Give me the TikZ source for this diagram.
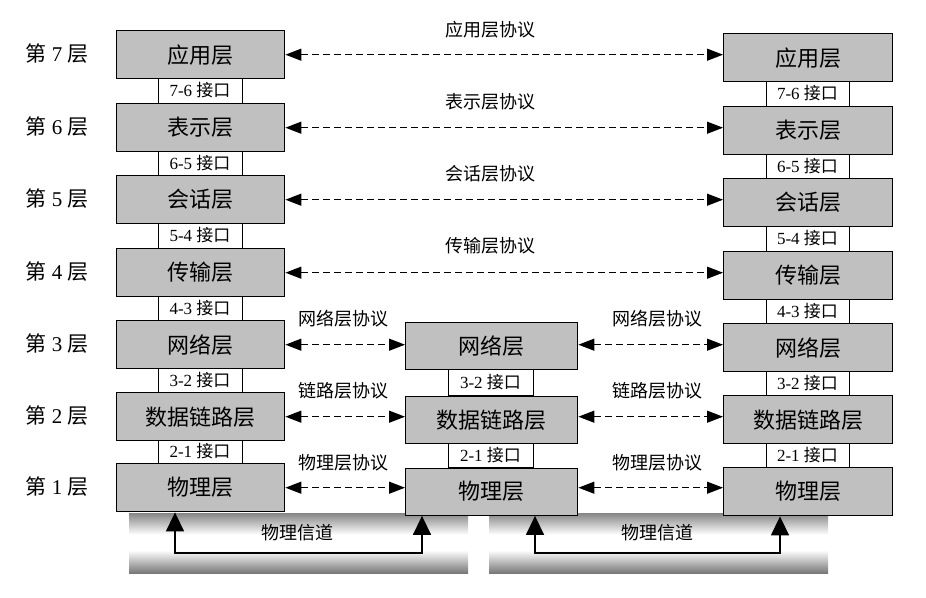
\documentclass[tikz,border=0pt]{standalone}
\usepackage{fontspec}
\setmainfont{Liberation Serif}
\newfontfamily\cjk{Noto Sans CJK SC}
\usetikzlibrary{arrows.meta}
\definecolor{boxgray}{HTML}{C0C0C0}
\definecolor{chantop}{gray}{0.52}
\definecolor{chanbot}{gray}{0.47}
\pgfdeclareverticalshading{chanshade}{100bp}{color(0bp)=(chanbot); color(25bp)=(chanbot); color(44bp)=(white); color(57bp)=(white); color(75bp)=(chantop); color(100bp)=(chantop)}
\tikzset{
  layer/.style={draw=black, line width=1.4pt, fill=boxgray, inner sep=0pt, minimum height=48pt, anchor=north west, font=\fontsize{22}{24}\cjk},
  iface/.style={draw=black, line width=1pt, fill=white, inner sep=0pt, font=\fontsize{17}{18}\selectfont},
  proto/.style={line width=1.2pt, dash pattern=on 7pt off 4pt, {Triangle[length=16pt,width=12pt]}-{Triangle[length=16pt,width=12pt]}},
  plabel/.style={font=\fontsize{18}{20}\cjk, inner sep=0pt},
  lvl/.style={font=\fontsize{21}{22}\selectfont, inner sep=0pt},
  chan/.style={line width=1.5pt, {Triangle[length=19pt,width=18pt]}-{Triangle[length=19pt,width=18pt]}},
}
\begin{document}
\begin{tikzpicture}[x=1pt,y=-1pt]
\useasboundingbox (0,0) rectangle (926,597);
% physical channels
\shade[shading=chanshade] (129,513) rectangle (468,573);
\shade[shading=chanshade] (489,513) rectangle (828,573);
% interfaces left
\node[iface, minimum width=84pt, minimum height=25pt] (li1) at (200,90.5) {7-6 {\cjk 接口}};
\node[iface, minimum width=84pt, minimum height=24pt] (li2) at (200,163) {6-5 {\cjk 接口}};
\node[iface, minimum width=84pt, minimum height=25pt] (li3) at (200,235.5) {5-4 {\cjk 接口}};
\node[iface, minimum width=84pt, minimum height=24pt] (li4) at (200,308) {4-3 {\cjk 接口}};
\node[iface, minimum width=84pt, minimum height=24pt] (li5) at (200,380) {3-2 {\cjk 接口}};
\node[iface, minimum width=84pt, minimum height=23pt] (li6) at (200,451.5) {2-1 {\cjk 接口}};
% interfaces right
\node[iface, minimum width=83pt, minimum height=25pt] (ri1) at (807.5,93.5) {7-6 {\cjk 接口}};
\node[iface, minimum width=83pt, minimum height=24pt] (ri2) at (807.5,166) {6-5 {\cjk 接口}};
\node[iface, minimum width=83pt, minimum height=25pt] (ri3) at (807.5,238.5) {5-4 {\cjk 接口}};
\node[iface, minimum width=83pt, minimum height=24pt] (ri4) at (807.5,311) {4-3 {\cjk 接口}};
\node[iface, minimum width=83pt, minimum height=24pt] (ri5) at (807.5,383) {3-2 {\cjk 接口}};
\node[iface, minimum width=83pt, minimum height=24pt] (ri6) at (807.5,455) {2-1 {\cjk 接口}};
% interfaces middle
\node[iface, minimum width=85pt, minimum height=27pt] (mi5) at (490.5,382) {3-2 {\cjk 接口}};
\node[iface, minimum width=85pt, minimum height=25pt] (mi6) at (490.5,455) {2-1 {\cjk 接口}};
% left layers
\node[layer, minimum width=168pt] (L7) at (116,30) {应用层};
\node[layer, minimum width=168pt] (L6) at (116,103) {表示层};
\node[layer, minimum width=168pt] (L5) at (116,175) {会话层};
\node[layer, minimum width=168pt] (L4) at (116,248) {传输层};
\node[layer, minimum width=168pt] (L3) at (116,320) {网络层};
\node[layer, minimum width=168pt] (L2) at (116,392) {数据链路层};
\node[layer, minimum width=168pt] (L1) at (116,463) {物理层};
% right layers
\node[layer, minimum width=169pt] (R7) at (723,33) {应用层};
\node[layer, minimum width=169pt] (R6) at (723,106) {表示层};
\node[layer, minimum width=169pt] (R5) at (723,178) {会话层};
\node[layer, minimum width=169pt] (R4) at (723,251) {传输层};
\node[layer, minimum width=169pt] (R3) at (723,323) {网络层};
\node[layer, minimum width=169pt] (R2) at (723,395) {数据链路层};
\node[layer, minimum width=169pt] (R1) at (723,467) {物理层};
% middle layers
\node[layer, minimum width=172pt, minimum height=47pt] (M3) at (405,321.5) {网络层};
\node[layer, minimum width=172pt, minimum height=47pt] (M2) at (405,395.5) {数据链路层};
\node[layer, minimum width=172pt, minimum height=47pt] (M1) at (405,467.5) {物理层};
% level labels
\node[lvl] (n7) at (57,54) {{\cjk 第} 7 {\cjk 层}};
\node[lvl] (n6) at (57,127) {{\cjk 第} 6 {\cjk 层}};
\node[lvl] (n5) at (57,199) {{\cjk 第} 5 {\cjk 层}};
\node[lvl] (n4) at (57,272) {{\cjk 第} 4 {\cjk 层}};
\node[lvl] (n3) at (57,344) {{\cjk 第} 3 {\cjk 层}};
\node[lvl] (n2) at (57,416) {{\cjk 第} 2 {\cjk 层}};
\node[lvl] (n1) at (57,487) {{\cjk 第} 1 {\cjk 层}};
% protocol arrows
\draw[proto] (L7.east) -- (L7.east -| R7.west);
\draw[proto] (L6.east) -- (L6.east -| R6.west);
\draw[proto] (L5.east) -- (L5.east -| R5.west);
\draw[proto] (L4.east) -- (L4.east -| R4.west);
\draw[proto] (L3.east) -- (L3.east -| M3.west);
\draw[proto] (L2.east) -- (L2.east -| M2.west);
\draw[proto] (L1.east) -- (L1.east -| M1.west);
\draw[proto] (L3.east -| M3.east) -- (L3.east -| R3.west);
\draw[proto] (L2.east -| M2.east) -- (L2.east -| R2.west);
\draw[proto] (L1.east -| M1.east) -- (L1.east -| R1.west);
% protocol labels
\node[plabel] (p7) at (490,30) {应用层协议};
\node[plabel] (p6) at (490,102) {表示层协议};
\node[plabel] (p5) at (490,174) {会话层协议};
\node[plabel] (p4) at (490,246) {传输层协议};
\node[plabel] (p3a) at (343,319) {网络层协议};
\node[plabel] (p2a) at (343,391) {链路层协议};
\node[plabel] (p1a) at (343,463) {物理层协议};
\node[plabel] (p3b) at (657,319) {网络层协议};
\node[plabel] (p2b) at (657,391) {链路层协议};
\node[plabel] (p1b) at (657,463) {物理层协议};
% physical channel arrows
\coordinate (c1) at (175,553);
\coordinate (c2) at (422,553);
\coordinate (c3) at (535,553);
\coordinate (c4) at (780,553);
\draw[chan] (c1 |- L1.south) -- (c1) -- (c2) -- (c2 |- M1.south);
\draw[chan] (c3 |- M1.south) -- (c3) -- (c4) -- (c4 |- R1.south);
\node[plabel] (ch1) at (297,533) {物理信道};
\node[plabel] (ch2) at (657,533) {物理信道};
\end{tikzpicture}
\end{document}
